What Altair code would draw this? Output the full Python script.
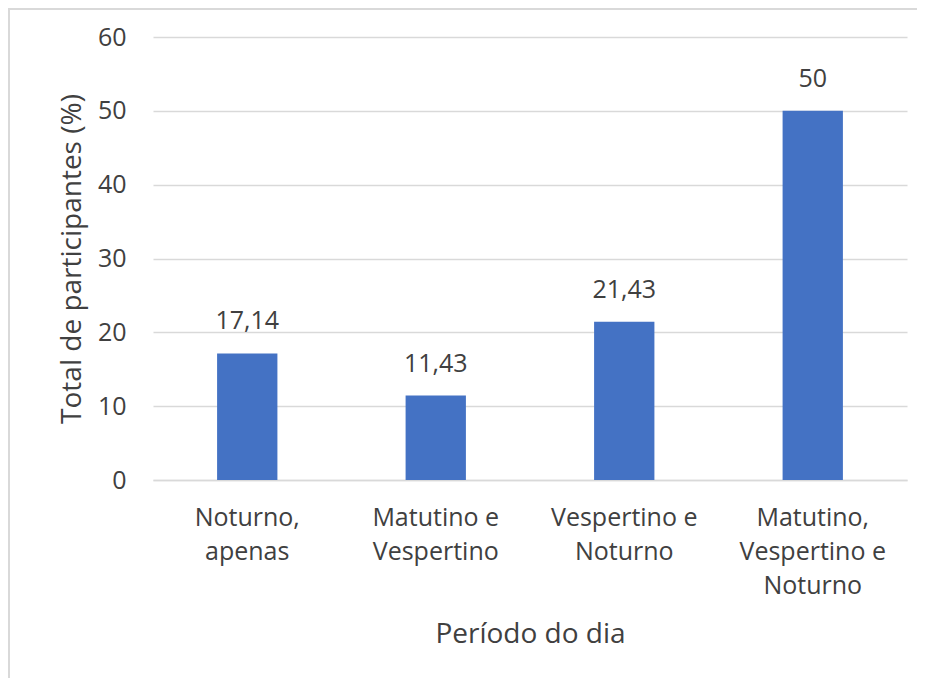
import altair as alt
import pandas as pd

categories = ["Noturno, apenas", "Matutino e Vespertino", "Vespertino e Noturno", "Matutino, Vespertino e Noturno"]
label_lines = [["Noturno,", "apenas"], ["Matutino e", "Vespertino"], ["Vespertino e", "Noturno"], ["Matutino,", "Vespertino e", "Noturno"]]
values = [17.14, 11.43, 21.43, 50]
value_labels = ["17,14", "11,43", "21,43", "50"]

df = pd.DataFrame({"cat": categories, "value": values, "label": value_labels})

FONT = "Open Sans"
GREY = "#404040"
W, H = 754, 443

mapping = "{" + ", ".join(
    '"%s": [%s]' % (c, ", ".join('"%s"' % l for l in lines)) for c, lines in zip(categories, label_lines)
) + "}"

x = alt.X("cat:N", sort=categories, title="Período do dia",
          scale=alt.Scale(paddingInner=0.68, paddingOuter=0.34),
          axis=alt.Axis(labelAngle=0, labelExpr=mapping + "[datum.value]",
                        labelFont=FONT, labelFontSize=25, labelColor=GREY,
                        labelPadding=25, labelLineHeight=34, labelBaseline="top",
                        titleFont=FONT, titleFontSize=28, titleColor=GREY, titleFontWeight="normal",
                        titlePadding=22, ticks=False, domainColor="#d9d9d9", domainWidth=1.5,
                        grid=False))
y = alt.Y("value:Q", title="Total de participantes (%)",
          scale=alt.Scale(domain=[0, 60]),
          axis=alt.Axis(values=[0, 10, 20, 30, 40, 50, 60], labelFont=FONT, labelFontSize=25,
                        labelColor=GREY, labelPadding=27, ticks=False, domain=False,
                        gridColor="#d9d9d9", gridWidth=1.5,
                        titleFont=FONT, titleFontSize=28, titleColor=GREY, titleFontWeight="normal",
                        titlePadding=11))

base = alt.Chart(df)
bars = base.mark_bar(color="#4472C4").encode(x=x, y=y)
texts = base.mark_text(font=FONT, fontSize=25, color=GREY, baseline="alphabetic", dy=-24).encode(
    x=alt.X("cat:N", sort=categories), y="value:Q", text="label:N")

border_left = alt.Chart(df).mark_rule(color="#d9d9d9", strokeWidth=2).encode(
    x=alt.value(-144), y=alt.value(-29), y2=alt.value(H + 198))
border_top = alt.Chart(df).mark_rule(color="#d9d9d9", strokeWidth=2).encode(
    x=alt.value(-145), x2=alt.value(W + 10), y=alt.value(-28))

chart = alt.layer(border_left, border_top, bars, texts).properties(
    width=W, height=H,
    autosize=alt.AutoSizeParams(type="none"),
    padding={"left": 145, "top": 29, "right": 10, "bottom": 198},
).configure_view(stroke=None)

chart.save("out.html", embed_options={"renderer": "svg", "actions": False})
